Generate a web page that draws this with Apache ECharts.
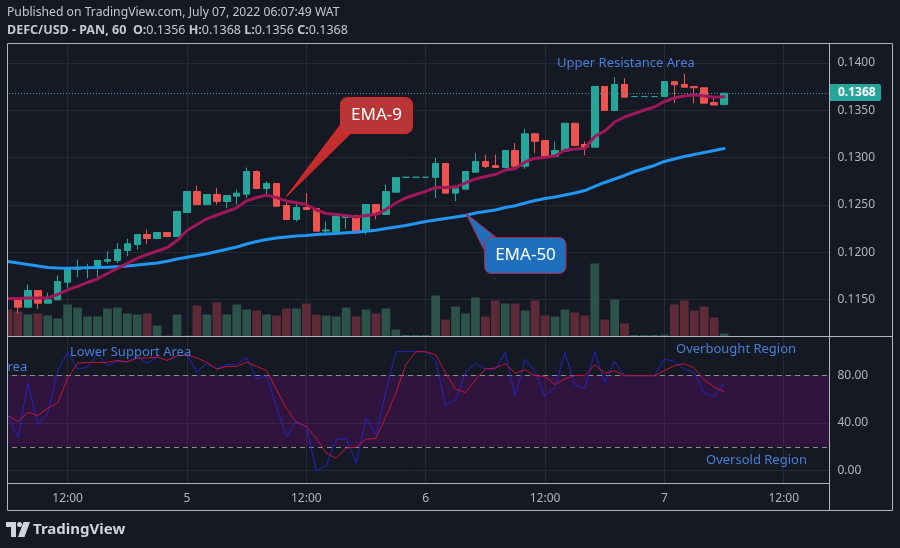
<!DOCTYPE html>
<html>
<head>
<meta charset="utf-8">
<title>DEFC/USD - PAN, 60</title>
<script src="https://cdn.jsdelivr.net/npm/echarts@6/dist/echarts.min.js"></script>
<style>
html, body { margin: 0; padding: 0; background: #151924; }
#chart { width: 900px; height: 548px; }
</style>
</head>
<body>
<div id="chart"></div>
<script>
// hourly slots, July 4 06:00 .. July 7 16:00 (last 10 are empty future slots)
const times = [
  '4 06:00','4 07:00','4 08:00','4 09:00','4 10:00','4 11:00','4 12:00','4 13:00','4 14:00','4 15:00',
  '4 16:00','4 17:00','4 18:00','4 19:00','4 20:00','4 21:00','4 22:00','4 23:00',
  '5 00:00','5 01:00','5 02:00','5 03:00','5 04:00','5 05:00','5 06:00','5 07:00','5 08:00','5 09:00',
  '5 10:00','5 11:00','5 12:00','5 13:00','5 14:00','5 15:00','5 16:00','5 17:00','5 18:00','5 19:00',
  '5 20:00','5 21:00','5 22:00','5 23:00',
  '6 00:00','6 01:00','6 02:00','6 03:00','6 04:00','6 05:00','6 06:00','6 07:00','6 08:00','6 09:00',
  '6 10:00','6 11:00','6 12:00','6 13:00','6 14:00','6 15:00','6 16:00','6 17:00','6 18:00','6 19:00',
  '6 20:00','6 21:00','6 22:00','6 23:00',
  '7 00:00','7 01:00','7 02:00','7 03:00','7 04:00','7 05:00','7 06:00','7 07:00','7 08:00','7 09:00',
  '7 10:00','7 11:00','7 12:00','7 13:00','7 14:00','7 15:00','7 16:00'
]
const tickCats = ['4 12:00', '5 00:00', '5 12:00', '6 00:00', '6 12:00', '7 00:00', '7 12:00']
const tickLabels = ['12:00', '5', '12:00', '6', '12:00', '7', '12:00']

const opens = [
  0.11516, 0.11497, 0.11419, 0.11595, 0.11461, 0.11497, 0.11683, 0.11817, 0.11828, 0.11835,
  0.11905, 0.11912, 0.12018, 0.12081, 0.12187, 0.12145, 0.12208, 0.12166, 0.12420, 0.12642,
  0.12504, 0.12610, 0.12536, 0.12592, 0.12613, 0.12853, 0.12673, 0.12726, 0.12494, 0.12346,
  0.12473, 0.12462, 0.12224, 0.12219, 0.12367, 0.12388, 0.12230, 0.12504, 0.12399, 0.12634,
  0.12792, 0.12792, 0.12792, 0.12792, 0.12938, 0.12624, 0.12666, 0.12846, 0.12959, 0.12917,
  0.12895, 0.13075, 0.12909, 0.13252, 0.13181, 0.13015, 0.13068, 0.13363, 0.13139, 0.13110,
  0.13752, 0.13498, 0.13773, 0.13645, 0.13645, 0.13645, 0.13645, 0.13804, 0.13773, 0.13752,
  0.13738, 0.13582, 0.13560
]
const closes = [
  0.11505, 0.11419, 0.11595, 0.11461, 0.11497, 0.11690, 0.11825, 0.11828, 0.11838, 0.11912,
  0.11923, 0.12029, 0.12089, 0.12187, 0.12145, 0.12208, 0.12166, 0.12430, 0.12642, 0.12504,
  0.12610, 0.12536, 0.12599, 0.12624, 0.12853, 0.12673, 0.12726, 0.12486, 0.12346, 0.12473,
  0.12451, 0.12222, 0.12235, 0.12378, 0.12388, 0.12230, 0.12504, 0.12399, 0.12642, 0.12790,
  0.12792, 0.12792, 0.12792, 0.12938, 0.12624, 0.12677, 0.12853, 0.12959, 0.12906, 0.12895,
  0.13075, 0.12909, 0.13252, 0.13173, 0.13015, 0.13075, 0.13363, 0.13128, 0.13110, 0.13752,
  0.13498, 0.13773, 0.13639, 0.13645, 0.13645, 0.13645, 0.13804, 0.13770, 0.13744, 0.13738,
  0.13575, 0.13556, 0.13680
]
const lows = [
  0.11437, 0.11355, 0.11419, 0.11402, 0.11461, 0.11497, 0.11620, 0.11736, 0.11725, 0.11736,
  0.11878, 0.11884, 0.11958, 0.12029, 0.12089, 0.12134, 0.12166, 0.12166, 0.12420, 0.12504,
  0.12504, 0.12504, 0.12465, 0.12504, 0.12571, 0.12673, 0.12607, 0.12486, 0.12346, 0.12325,
  0.12451, 0.12222, 0.12201, 0.12195, 0.12247, 0.12219, 0.12187, 0.12346, 0.12399, 0.12634,
  0.12792, 0.12792, 0.12792, 0.12573, 0.12624, 0.12539, 0.12666, 0.12846, 0.12890, 0.12895,
  0.12895, 0.12909, 0.12882, 0.13047, 0.13015, 0.13015, 0.13068, 0.13128, 0.13025, 0.13110,
  0.13498, 0.13491, 0.13639, 0.13645, 0.13645, 0.13645, 0.13645, 0.13575, 0.13744, 0.13575,
  0.13575, 0.13556, 0.13560
]
const highs = [
  0.11560, 0.11500, 0.11659, 0.11595, 0.11571, 0.11754, 0.11843, 0.11923, 0.11878, 0.11912,
  0.12008, 0.12095, 0.12142, 0.12187, 0.12240, 0.12208, 0.12208, 0.12430, 0.12642, 0.12705,
  0.12610, 0.12681, 0.12599, 0.12663, 0.12895, 0.12864, 0.12747, 0.12726, 0.12557, 0.12529,
  0.12624, 0.12462, 0.12325, 0.12399, 0.12399, 0.12388, 0.12504, 0.12504, 0.12716, 0.12790,
  0.12792, 0.12792, 0.12792, 0.12998, 0.12938, 0.12705, 0.12853, 0.13047, 0.13033, 0.13033,
  0.13075, 0.13152, 0.13304, 0.13252, 0.13181, 0.13170, 0.13363, 0.13363, 0.13170, 0.13752,
  0.13752, 0.13850, 0.13839, 0.13645, 0.13645, 0.13645, 0.13804, 0.13804, 0.13886, 0.13752,
  0.13738, 0.13651, 0.13680
]
// volume, thousands
const volumes = [
  27, 25, 22, 23, 21, 18, 32, 29, 20, 20,
  28, 29, 23, 22, 23, 11, 1, 22, 1, 31,
  22, 34, 22, 32, 27, 26, 22, 21, 28, 28,
  33, 22, 21, 20, 29, 20, 27, 23, 28, 7,
  1.5, 1.5, 1.5, 41, 17, 30, 23, 39, 20, 36,
  33, 33, 26, 36, 21, 20, 27, 24, 21, 73,
  17, 37, 13, 1.5, 1.5, 1.5, 2, 32, 36, 26,
  30, 19, 3
]
const ema9 = [
  0.11508, 0.11511, 0.11516, 0.11516, 0.11518, 0.11553, 0.11601, 0.11638, 0.11680, 0.11719,
  0.11775, 0.11828, 0.11881, 0.11934, 0.11976, 0.12013, 0.12047, 0.12124, 0.12230, 0.12293,
  0.12353, 0.12393, 0.12430, 0.12469, 0.12543, 0.12578, 0.12603, 0.12578, 0.12539, 0.12522,
  0.12504, 0.12448, 0.12409, 0.12399, 0.12388, 0.12372, 0.12388, 0.12399, 0.12451, 0.12520,
  0.12573, 0.12610, 0.12642, 0.12684, 0.12684, 0.12689, 0.12732, 0.12774, 0.12800, 0.12821,
  0.12869, 0.12885, 0.12954, 0.12993, 0.13001, 0.13017, 0.13077, 0.13091, 0.13096, 0.13223,
  0.13281, 0.13376, 0.13429, 0.13466, 0.13503, 0.13535, 0.13593, 0.13630, 0.13651, 0.13664,
  0.13651, 0.13637, 0.13643
]
const ema50 = [
  0.11902, 0.11886, 0.11870, 0.11854, 0.11838, 0.11833, 0.11831, 0.11833, 0.11835, 0.11838,
  0.11842, 0.11847, 0.11854, 0.11865, 0.11875, 0.11886, 0.11905, 0.11928, 0.11947, 0.11965,
  0.11983, 0.12008, 0.12031, 0.12055, 0.12087, 0.12113, 0.12134, 0.12150, 0.12161, 0.12171,
  0.12177, 0.12187, 0.12193, 0.12198, 0.12205, 0.12210, 0.12221, 0.12233, 0.12251, 0.12267,
  0.12282, 0.12303, 0.12325, 0.12341, 0.12356, 0.12372, 0.12388, 0.12414, 0.12430, 0.12446,
  0.12473, 0.12491, 0.12520, 0.12547, 0.12568, 0.12584, 0.12605, 0.12626, 0.12652, 0.12695,
  0.12737, 0.12774, 0.12811, 0.12853, 0.12885, 0.12917, 0.12959, 0.12985, 0.13012, 0.13033,
  0.13054, 0.13075, 0.13096
]
const stochK = [
  46.1, 28.1, 73.6, 38.5, 48.3, 84.2, 99.4, 85.4, 87.1, 98.3,
  88.2, 91.8, 91.8, 96.0, 90.4, 95.5, 92.7, 96.6, 97.4, 82.5,
  90.4, 85.4, 89.3, 89.3, 95.2, 77.0, 79.8, 53.4, 28.6, 41.3,
  37.1, 0.0, 3.9, 25.8, 27.2, 6.2, 44.1, 30.0, 66.5, 100,
  100, 100, 100, 92.6, 54.5, 59.5, 82.5, 90.4, 85.4, 85.4,
  99.4, 62.3, 93.8, 83.4, 62.3, 70.2, 99.4, 72.2, 68.8, 100,
  74.1, 91.8, 79.8, 79.8, 79.8, 79.8, 93.8, 91.8, 85.4, 82.5,
  65.2, 62.3, 73.0
]
const stochD = [
  46.1, 41.3, 48.9, 46.1, 52.5, 56.8, 77.8, 90.4, 91.0, 91.0,
  91.0, 92.7, 91.3, 94.7, 94.7, 95.5, 92.7, 96.6, 97.4, 94.7,
  91.0, 85.4, 87.6, 87.6, 91.3, 87.6, 84.2, 68.0, 52.5, 40.4,
  37.1, 27.3, 14.7, 10.4, 18.9, 19.7, 26.4, 27.0, 45.5, 65.2,
  89.0, 100, 100, 97.4, 82.0, 68.5, 65.7, 76.4, 85.4, 86.2,
  89.9, 82.0, 84.8, 79.8, 79.2, 72.2, 77.0, 80.0, 80.0, 89.0,
  82.0, 84.0, 79.8, 79.8, 79.8, 79.8, 84.2, 88.2, 89.9, 86.2,
  76.4, 70.2, 66.5
]

const bg = '#151924'
const upColor = '#26a69a'
const downColor = '#ef5350'
const volUp = '#2d5249'
const volDown = '#5d2b38'
const gridColor = '#262a36'
const axisText = '#b2b5be'
const frameColor = '#b2b5be'
const noteColor = '#4a7fd6'
const font = 'Noto Sans'

const last = opens.length - 1
const fmt = v => v.toFixed(4)

const isUp = i => closes[i] > opens[i] || (closes[i] === opens[i] && (i === 0 || closes[i] >= closes[i - 1]))

const candleData = opens.map((o, i) => {
  const c = isUp(i) ? upColor : downColor
  return { value: [o, closes[i], lows[i], highs[i]], itemStyle: { color: c, color0: c, borderColor: c, borderColor0: c } }
})
const volumeData = volumes.map((v, i) => ({ value: v, itemStyle: { color: isUp(i) ? volUp : volDown } }))

const vGridLines = (xi, yi) => ({
  type: 'line', xAxisIndex: xi, yAxisIndex: yi, data: [], z: 0, silent: true,
  markLine: {
    silent: true, symbol: 'none', z: 0, animation: false,
    label: { show: false },
    lineStyle: { color: gridColor, type: 'solid', width: 1 },
    data: tickCats.map(c => ({ xAxis: c }))
  }
})

const text = (x, y, str, size, color, extra) => Object.assign({
  type: 'text', x, y, z: 100, silent: true,
  style: { text: str, font: size + 'px "' + font + '"', fill: color, textVerticalAlign: 'middle' }
}, extra || {})

const chart = echarts.init(document.getElementById('chart'), null, { renderer: 'canvas' })

chart.setOption({
  backgroundColor: bg,
  animation: false,
  textStyle: { fontFamily: font },
  grid: [
    { left: 3, width: 825.5, top: 43.5, height: 293 },
    { left: 3, width: 825.5, top: 336.5, height: 147 }
  ],
  xAxis: [
    {
      type: 'category', gridIndex: 0, data: times, boundaryGap: true,
      axisLine: { show: false }, axisTick: { show: false }, axisLabel: { show: false }, splitLine: { show: false }
    },
    {
      type: 'category', gridIndex: 1, data: times, boundaryGap: true,
      axisLine: { show: false }, axisTick: { show: false }, splitLine: { show: false },
      axisLabel: {
        color: axisText, fontSize: 12, margin: 9, fontFamily: font,
        interval: (i, v) => tickCats.indexOf(v) >= 0,
        formatter: v => tickLabels[tickCats.indexOf(v)]
      }
    }
  ],
  yAxis: [
    {
      type: 'value', gridIndex: 0, position: 'right', min: 0.11109, max: 0.14206,
      minInterval: 0.005, maxInterval: 0.005,
      axisLine: { show: false }, axisTick: { show: false },
      axisLabel: { color: axisText, fontSize: 12, margin: 9, fontFamily: font, formatter: fmt, showMinLabel: false, showMaxLabel: false },
      splitLine: { lineStyle: { color: gridColor, width: 1 } }
    },
    { type: 'value', gridIndex: 0, min: 0, max: 293, show: false },
    {
      type: 'value', gridIndex: 1, position: 'right', min: -10.9, max: 112.8,
      minInterval: 40, maxInterval: 40,
      axisLine: { show: false }, axisTick: { show: false },
      axisLabel: { color: axisText, fontSize: 12, margin: 9, fontFamily: font, formatter: v => v.toFixed(2), showMinLabel: false, showMaxLabel: false },
      splitLine: { lineStyle: { color: gridColor, width: 1 } }
    }
  ],
  series: [
    vGridLines(0, 0),
    vGridLines(1, 2),
    {
      name: 'Volume', type: 'bar', xAxisIndex: 0, yAxisIndex: 1, data: volumeData,
      barWidth: '88%', z: 1, silent: true
    },
    {
      name: 'DEFC/USD', type: 'candlestick', xAxisIndex: 0, yAxisIndex: 0, data: candleData,
      barWidth: 7, z: 3, silent: true
    },
    {
      name: 'EMA-50', type: 'line', xAxisIndex: 0, yAxisIndex: 0, data: ema50,
      symbol: 'none', z: 4, silent: true,
      lineStyle: { color: '#2196f3', width: 3, cap: 'round', join: 'round' }
    },
    {
      name: 'EMA-9', type: 'line', xAxisIndex: 0, yAxisIndex: 0, data: ema9,
      symbol: 'none', z: 4, silent: true,
      lineStyle: { color: '#a0185a', width: 3, cap: 'round', join: 'round' },
      markLine: {
        silent: true, symbol: 'none', animation: false, precision: 5,
        label: { show: false },
        lineStyle: { color: upColor, type: [1, 2], width: 1 },
        data: [{ yAxis: closes[last] }]
      }
    },
    {
      name: '%K', type: 'line', xAxisIndex: 1, yAxisIndex: 2, data: stochK,
      symbol: 'none', z: 3, silent: true,
      lineStyle: { color: '#2323c8', width: 1 },
      markArea: {
        silent: true, z: 1,
        itemStyle: { color: 'rgba(140, 10, 150, 0.22)' },
        data: [[{ yAxis: 20 }, { yAxis: 80 }]]
      },
      markLine: {
        silent: true, symbol: 'none', z: 2, animation: false,
        label: { show: false },
        lineStyle: { color: '#8a8d96', type: [5, 4], width: 1 },
        data: [{ yAxis: 80 }, { yAxis: 20 }]
      }
    },
    {
      name: '%D', type: 'line', xAxisIndex: 1, yAxisIndex: 2, data: stochD,
      symbol: 'none', z: 3, silent: true,
      lineStyle: { color: '#c8123a', width: 1 }
    }
  ],
  graphic: [
    // clip what spills left of the frame
    { type: 'rect', z: 99, silent: true, shape: { x: 0, y: 40, width: 7.5, height: 475 }, style: { fill: bg } },
    // frame
    { type: 'rect', z: 100, silent: true, shape: { x: 7.5, y: 43.5, width: 885, height: 467 }, style: { fill: 'none', stroke: frameColor, lineWidth: 1 } },
    { type: 'line', z: 100, silent: true, shape: { x1: 829.5, y1: 43.5, x2: 829.5, y2: 510.5 }, style: { stroke: frameColor, lineWidth: 1 } },
    { type: 'line', z: 100, silent: true, shape: { x1: 7.5, y1: 336.5, x2: 892.5, y2: 336.5 }, style: { stroke: frameColor, lineWidth: 1 } },
    { type: 'line', z: 100, silent: true, shape: { x1: 7.5, y1: 483.5, x2: 829.5, y2: 483.5 }, style: { stroke: frameColor, lineWidth: 1 } },
    // last price tag
    { type: 'rect', z: 100, silent: true, shape: { x: 830, y: 84, width: 51, height: 17, r: [0, 2, 2, 0] }, style: { fill: upColor } },
    text(838, 92.5, fmt(closes[last]), 12, '#ffffff', { style: { text: fmt(closes[last]), font: 'bold 12px "' + font + '"', fill: '#ffffff', textVerticalAlign: 'middle' } }),
    // header
    text(7, 13, 'Published on TradingView.com, July 07, 2022 06:07:49 WAT', 12.2, '#c5c8d0'),
    {
      type: 'text', x: 7, y: 30, z: 100, silent: true,
      style: {
        text: '{b|DEFC/USD - PAN, 60}  {b|O:}{n|' + fmt(opens[last]) + '} {b|H:}{n|' + fmt(highs[last]) +
          '} {b|L:}{n|' + fmt(lows[last]) + '} {b|C:}{n|' + fmt(closes[last]) + '}',
        textVerticalAlign: 'middle',
        rich: {
          b: { fontFamily: font, fontSize: 12.5, fontWeight: 'bold', fill: '#c5c8d0', color: '#c5c8d0' },
          n: { fontFamily: font, fontSize: 12.5, fill: '#c5c8d0', color: '#c5c8d0' }
        }
      }
    },
    // annotations
    text(557, 63, 'Upper Resistance Area', 13, noteColor),
    text(70, 352, 'Lower Support Area', 13, noteColor),
    text(7.5, 367.5, 'rea', 13, noteColor),
    text(676, 349.5, 'Overbought Region', 13, noteColor),
    text(706, 460.5, 'Oversold Region', 13, noteColor),
    // EMA-9 callout
    { type: 'polygon', z: 100, silent: true, shape: { points: [[341, 124], [286, 197], [351, 133]] }, style: { fill: '#c22e2e', stroke: '#e32626', lineWidth: 1 } },
    { type: 'rect', z: 101, silent: true, shape: { x: 340.5, y: 97.5, width: 72, height: 36, r: 7 }, style: { fill: '#b83636', stroke: '#e02424', lineWidth: 1 } },
    text(376.5, 115.5, 'EMA-9', 17, '#ffffff', { z: 102, style: { text: 'EMA-9', font: '17px "' + font + '"', fill: '#ffffff', textAlign: 'center', textVerticalAlign: 'middle' } }),
    // EMA-50 callout
    { type: 'polygon', z: 100, silent: true, shape: { points: [[485, 252], [466, 213.5], [497, 238]] }, style: { fill: '#1f6fbd', stroke: '#b3244a', lineWidth: 1 } },
    { type: 'rect', z: 101, silent: true, shape: { x: 484.5, y: 237.5, width: 81.5, height: 36, r: 7 }, style: { fill: '#1f6fbd', stroke: '#b3244a', lineWidth: 1 } },
    text(525.5, 255.5, 'EMA-50', 17, '#ffffff', { z: 102, style: { text: 'EMA-50', font: '17px "' + font + '"', fill: '#ffffff', textAlign: 'center', textVerticalAlign: 'middle' } }),
    // TradingView logo
    { type: 'polygon', z: 100, silent: true, shape: { points: [[6, 522], [16, 522], [16, 537], [11, 537], [11, 527], [6, 527]] }, style: { fill: '#d1d4dc' } },
    { type: 'circle', z: 100, silent: true, shape: { cx: 19.5, cy: 524.5, r: 2.5 }, style: { fill: '#d1d4dc' } },
    { type: 'polygon', z: 100, silent: true, shape: { points: [[23.5, 522], [30, 522], [24.5, 537], [18, 537]] }, style: { fill: '#d1d4dc' } },
    text(33, 529.5, 'TradingView', 15, '#d1d4dc', { style: { text: 'TradingView', font: 'bold 15px "' + font + '"', fill: '#d1d4dc', textVerticalAlign: 'middle' } })
  ]
})
</script>
</body>
</html>
